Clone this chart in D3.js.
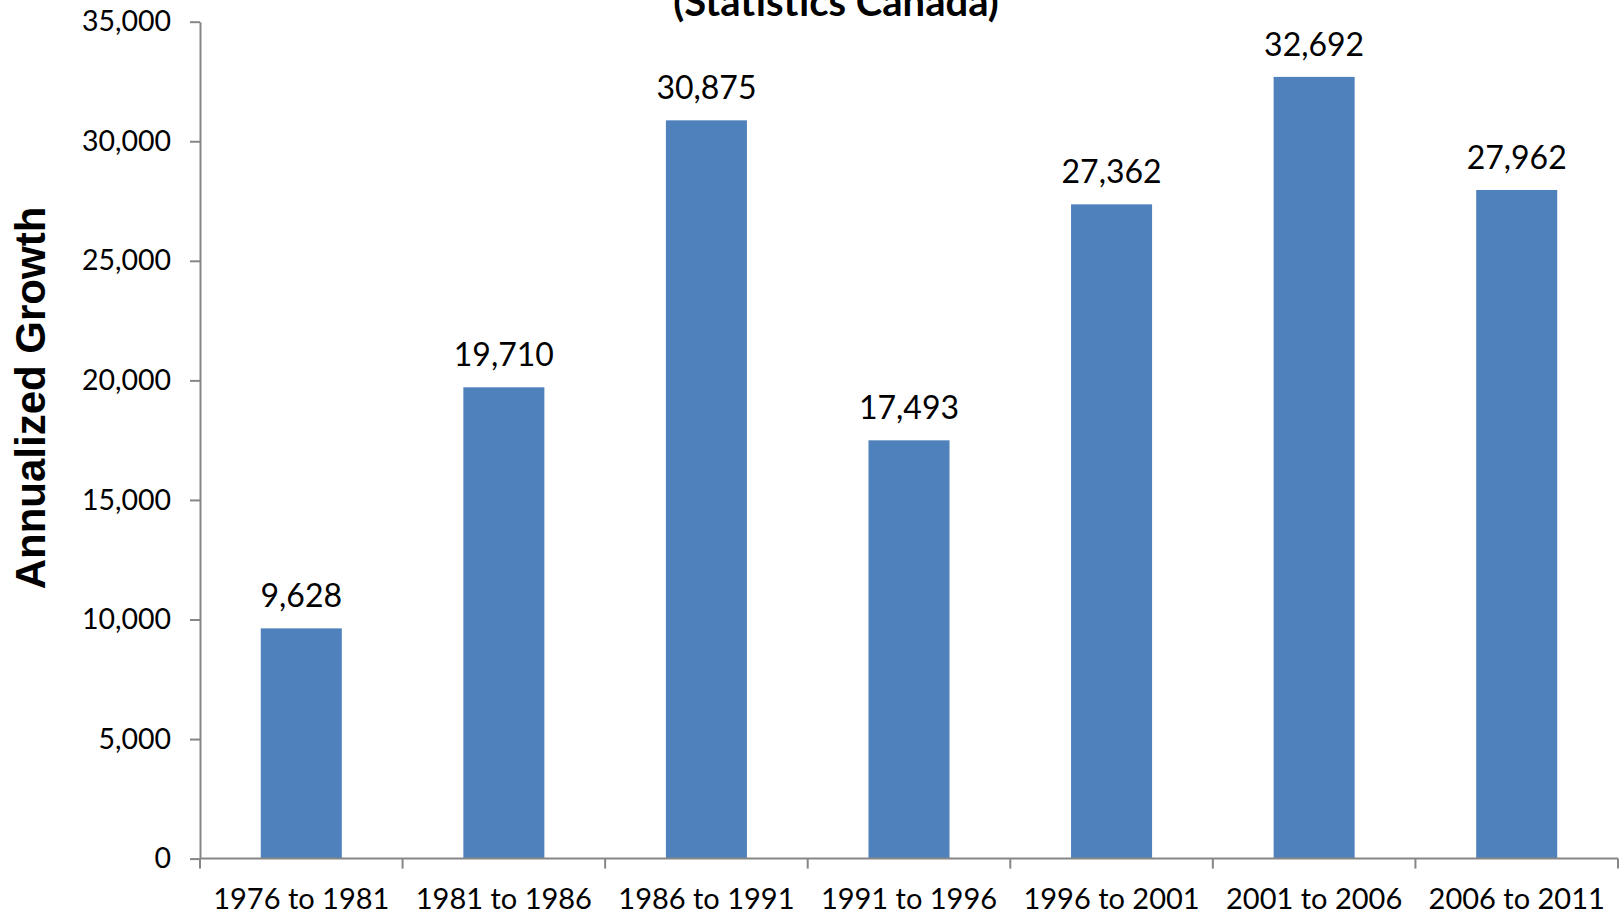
<!DOCTYPE html>
<html>
<head>
<meta charset="utf-8">
<script src="https://cdn.jsdelivr.net/npm/d3@7"></script>
<style>
  html, body { margin: 0; padding: 0; background: #fff; }
  svg { display: block; }
  .axis path, .axis line { stroke: #868686; stroke-width: 2; }
</style>
</head>
<body>
<svg id="chart" width="1624" height="915"></svg>
<script>
// Annualized population growth per census period
const periods = ["1976 to 1981", "1981 to 1986", "1986 to 1991", "1991 to 1996",
                 "1996 to 2001", "2001 to 2006", "2006 to 2011"];
const growth = [9628, 19710, 30875, 17493, 27362, 32692, 27962];
const yTicks = [0, 5000, 10000, 15000, 20000, 25000, 30000, 35000];

const W = 1624, H = 915;
const margin = { top: 21.7, right: 6, bottom: H - 858.6, left: 200 };
const svg = d3.select("#chart");

const x = d3.scaleBand()
  .domain(periods)
  .range([margin.left, W - margin.right])
  .paddingInner(0.6)
  .paddingOuter(0.3);

const y = d3.scaleLinear()
  .domain([0, 35000])
  .range([H - margin.bottom, margin.top]);

const labelFont = "Lato, 'Open Sans', sans-serif";

// Bars
svg.append("g").selectAll("rect")
  .data(periods)
  .join("rect")
  .attr("x", d => x(d))
  .attr("width", x.bandwidth())
  .attr("y", (d, i) => y(growth[i]))
  .attr("height", (d, i) => y(0) - y(growth[i]))
  .attr("fill", "#4F81BD");

// Value labels above bars
const fmt = d3.format(",");
svg.append("g").selectAll("text")
  .data(periods)
  .join("text")
  .attr("x", d => x(d) + x.bandwidth() / 2)
  .attr("y", (d, i) => y(growth[i]) - 21)
  .attr("text-anchor", "middle")
  .style("font-family", labelFont)
  .style("font-size", "32px")
  .attr("fill", "#000")
  .text((d, i) => fmt(growth[i]));

// Y axis
const yAxis = svg.append("g")
  .attr("class", "axis")
  .attr("transform", `translate(${margin.left},0)`)
  .call(d3.axisLeft(y).tickValues(yTicks).tickFormat(fmt).tickSize(10).tickSizeOuter(0).tickPadding(19));
yAxis.selectAll("text")
  .style("font-family", labelFont)
  .style("font-size", "28.5px")
  .attr("fill", "#000");

// X axis with category labels and ticks on band boundaries
const step = x.step();
const boundaries = periods.map(d => x(d) - step * x.paddingInner() / 2).concat([W - margin.right]);
const xAxis = svg.append("g")
  .attr("class", "axis")
  .attr("transform", `translate(0,${y(0)})`)
  .call(d3.axisBottom(x).tickSize(0).tickSizeOuter(0).tickPadding(30));
xAxis.select(".domain").attr("d", `M${margin.left},0H${W - margin.right}`);
xAxis.selectAll("text")
  .style("font-family", labelFont)
  .style("font-size", "29px")
  .attr("fill", "#000");
xAxis.selectAll("line.boundary")
  .data(boundaries)
  .join("line")
  .attr("class", "boundary")
  .attr("x1", d => d).attr("x2", d => d)
  .attr("y1", 0).attr("y2", 10);

// Y axis title
svg.append("text")
  .attr("transform", "translate(45,398) rotate(-90)")
  .attr("text-anchor", "middle")
  .style("font-family", "'Liberation Sans', Arial, sans-serif")
  .style("font-weight", "bold")
  .style("font-size", "42px")
  .attr("fill", "#000")
  .text("Annualized Growth");

// Chart title (source line)
svg.append("text")
  .attr("x", 836)
  .attr("y", 16)
  .attr("text-anchor", "middle")
  .style("font-family", labelFont)
  .style("font-weight", "bold")
  .style("font-size", "40px")
  .attr("fill", "#000")
  .text("(Statistics Canada)");
</script>
</body>
</html>
